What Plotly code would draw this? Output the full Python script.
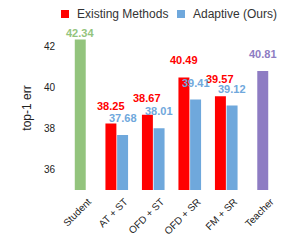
import plotly.graph_objects as go

categories = ["Student", "AT + ST", "OFD + ST", "OFD + SR", "FM + SR", "Teacher"]
methods = ["AT + ST", "OFD + ST", "OFD + SR", "FM + SR"]
existing_vals = [38.25, 38.67, 40.49, 39.57]
adaptive_vals = [37.68, 38.01, 39.41, 39.12]
student_val = 42.34
teacher_val = 40.81
y_ticks = [36, 38, 40, 42]
legend_names = ["Existing Methods", "Adaptive (Ours)"]

RED = "#FF0000"
BLUE = "#6FA8DC"
GREEN = "#93C47D"
PURPLE = "#8E7CC3"
FONT = "Liberation Sans, Arial"

W = 0.3
fig = go.Figure()
fig.add_trace(go.Bar(x=["Student"], y=[student_val], marker_color=GREEN, width=W,
                     offset=-W / 2))
fig.add_trace(go.Bar(x=methods, y=existing_vals, marker_color=RED, width=W,
                     offset=-W - 0.01, name=legend_names[0]))
fig.add_trace(go.Bar(x=methods, y=adaptive_vals, marker_color=BLUE, width=W,
                     offset=0.01, name=legend_names[1]))
fig.add_trace(go.Bar(x=["Teacher"], y=[teacher_val], marker_color=PURPLE, width=W,
                     offset=-W / 2))
fig.update_traces(marker_line_width=0, showlegend=False)

ann = []
def lab(xpos, val, color, ys=17):
    ann.append(dict(x=xpos, y=val, text=f"{val:.2f}", showarrow=False, yshift=ys,
                    yanchor="middle", xanchor="center",
                    font=dict(family=FONT, size=11, color=color, weight="bold")))

lab(categories.index("Student"), student_val, GREEN, ys=7)
for m, v in zip(methods, existing_vals):
    lab(categories.index(m) - W / 2 - 0.01, v, RED)
for m, v in zip(methods, adaptive_vals):
    lab(categories.index(m) + W / 2 + 0.01, v, BLUE)
lab(categories.index("Teacher"), teacher_val, PURPLE)

# manual legend (page px; plot area on page: x 62..281, y 26..190)
def px_x(p):
    return (p - 62) / 219.0
def px_y(p):
    return (190 - p) / 164.0

shapes = []
for name, color, sx in zip(legend_names, [RED, BLUE], [61, 177]):
    shapes.append(dict(type="rect", xref="paper", yref="paper",
                       x0=px_x(sx), x1=px_x(sx + 8), y0=px_y(18), y1=px_y(10),
                       fillcolor=color, line=dict(width=0)))
    ann.append(dict(xref="paper", yref="paper", x=px_x(sx + 14), y=px_y(14),
                    text=name, showarrow=False, xanchor="left", yanchor="middle",
                    font=dict(family=FONT, size=12, color="#333333")))

fig.update_layout(
    width=289, height=232,
    margin=dict(l=54, r=16, t=18, b=50, autoexpand=False),
    paper_bgcolor="white", plot_bgcolor="white",
    barmode="overlay",
    showlegend=False,
    font=dict(family=FONT, size=10, color="#222222"),
    annotations=ann,
    shapes=shapes,
    xaxis=dict(categoryorder="array", categoryarray=categories, tickangle=-45,
               range=[-0.5, 5.5], showline=False, showgrid=False, ticks="",
               tickfont=dict(size=10), ticklabelshift=8, ticklabelstandoff=3),
    yaxis=dict(range=[35, 43], tickvals=y_ticks, showgrid=False, zeroline=False,
               showline=False, ticks="outside", ticklen=4, tickcolor="rgba(0,0,0,0)",
               tickfont=dict(size=10),
               title=dict(text="top-1 err", font=dict(size=12), standoff=9)),
)

fig.write_html("out.html")
